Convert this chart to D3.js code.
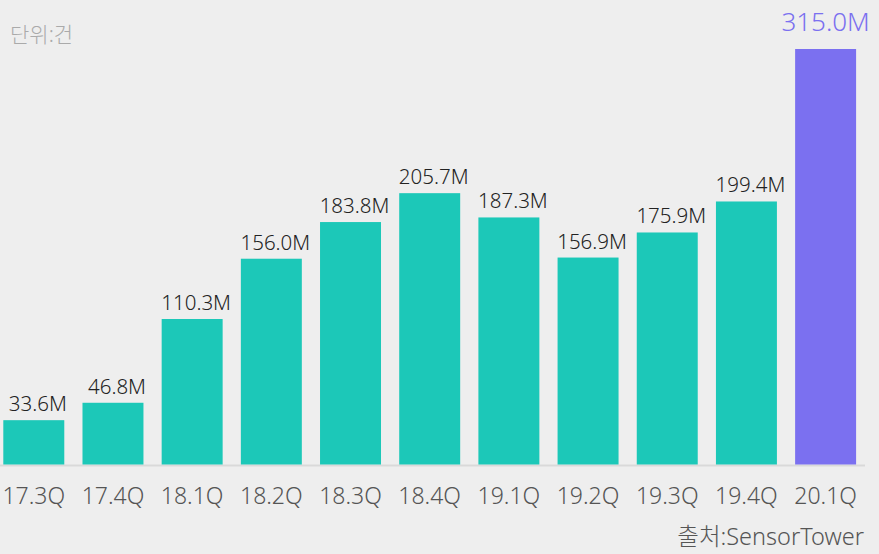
<!DOCTYPE html>
<html>
<head>
<meta charset="utf-8">
<script src="https://cdn.jsdelivr.net/npm/d3@7"></script>
<style>
  html, body { margin: 0; padding: 0; background: #eeeeee; }
  svg { display: block; font-family: "Noto Sans", "Noto Sans CJK KR", sans-serif; font-weight: 300; }
</style>
</head>
<body>
<div id="chart"></div>
<script>
// quarters and download counts (millions)
const quarters = ["17.3Q", "17.4Q", "18.1Q", "18.2Q", "18.3Q", "18.4Q", "19.1Q", "19.2Q", "19.3Q", "19.4Q", "20.1Q"];
const downloads = [33.6, 46.8, 110.3, 156.0, 183.8, 205.7, 187.3, 156.9, 175.9, 199.4, 315.0];
const unitText = "단위:건";
const sourceText = "출처:SensorTower";

document.addEventListener("DOMContentLoaded", function () {
    const width = 879, height = 554;

    const svg = d3.select("#chart").append("svg")
        .attr("width", width)
        .attr("height", height);

    const data = quarters.map((q, i) => ({q: q, v: downloads[i], last: i === quarters.length - 1}));

    const x = d3.scaleBand()
        .domain(quarters)
        .range([-5.8, 865.2])
        .paddingInner(0.23)
        .paddingOuter(0.115);

    const y = d3.scaleLinear()
        .domain([0, 315])
        .range([464.5, 49]);

    // baseline
    svg.append("line")
        .attr("x1", 0).attr("x2", 865)
        .attr("y1", 465.5).attr("y2", 465.5)
        .attr("stroke", "#d9d9d9")
        .attr("stroke-width", 2);

    svg.selectAll("rect.bar")
        .data(data)
        .enter().append("rect")
        .attr("class", "bar")
        .attr("x", d => x(d.q))
        .attr("width", x.bandwidth())
        .attr("y", d => y(d.v))
        .attr("height", d => y(0) - y(d.v))
        .style("fill", d => d.last ? "#7b70f0" : "#1cc8b8");

    // value labels
    svg.selectAll("text.val")
        .data(data)
        .enter().append("text")
        .attr("class", "val")
        .attr("x", d => x(d.q) + x.bandwidth() / 2 + (d.last ? 0 : 4))
        .attr("y", d => y(d.v) - (d.last ? 18 : 9))
        .attr("text-anchor", "middle")
        .style("font-size", d => d.last ? "26px" : "20.5px")
        .style("fill", d => d.last ? "#7b70f0" : "#222")
        .text(d => d.v.toFixed(1) + "M");

    // x axis labels
    const xAxis = d3.axisBottom(x).tickSize(0).tickPadding(0);
    const gx = svg.append("g")
        .attr("transform", "translate(0, 488)")
        .call(xAxis);
    gx.select(".domain").remove();
    gx.selectAll("text")
        .attr("dy", "0.71em")
        .style("font-size", "23px")
        .style("font-family", "\"Noto Sans\", \"Noto Sans CJK KR\", sans-serif")
        .style("font-weight", 300)
        .style("fill", "#555");

    svg.append("text")
        .attr("x", 10).attr("y", 42)
        .style("font-size", "21px")
        .style("fill", "#aaa")
        .text(unitText);

    svg.append("text")
        .attr("x", 864).attr("y", 545)
        .attr("text-anchor", "end")
        .style("font-size", "23.5px")
        .style("fill", "#555")
        .text(sourceText);
});
</script>
</body>
</html>
